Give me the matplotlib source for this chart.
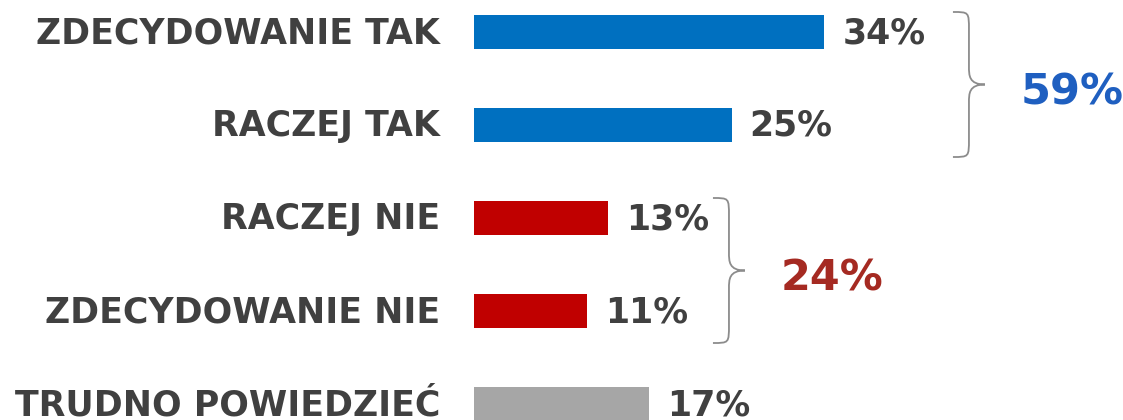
import numpy as np
import matplotlib.pyplot as plt
from matplotlib.path import Path
from matplotlib.patches import PathPatch

# dane
categories = ["ZDECYDOWANIE TAK", "RACZEJ TAK", "RACZEJ NIE", "ZDECYDOWANIE NIE", "TRUDNO POWIEDZIEĆ"]
values = [34, 25, 13, 11, 17]
bar_colors = ["#0070c0", "#0070c0", "#c00000", "#c00000", "#a6a6a6"]
groups = [(0, 1, "59%", "#1f5fc0"), (2, 3, "24%", "#a52a22")]

TEXT = "#404040"
FONT = "DejaVu Sans"

W, H = 1123, 420
fig = plt.figure(figsize=(W / 100, H / 100), dpi=100)

# skala: 10.3 px na punkt procentowy, 93 px na wiersz
PX_X = 10.3
PX_Y = 93.0
x0_px, y0_px = 474, 32
left = x0_px / W
ax = fig.add_axes([left, 0, 1 - left, 1])
ax.set_xlim(0, (W - x0_px) / PX_X)
ax.set_ylim((H - y0_px) / PX_Y, -y0_px / PX_Y)
ax.axis("off")

ypos = np.arange(len(categories))
ax.barh(ypos, values, height=34 / PX_Y, color=bar_colors, clip_on=False)

for y, v, c in zip(ypos, values, categories):
    ax.text(v + 18 / PX_X, y + 1 / PX_Y, f"{v}%", ha="left", va="center", fontsize=25,
            fontweight="bold", color=TEXT, family=FONT, clip_on=False)
    ax.text(-34 / PX_X, y + 1 / PX_Y, c, ha="right", va="center", fontsize=25,
            fontweight="bold", color=TEXT, family=FONT, clip_on=False)


def brace(xl, ytop, ybot, w_px=32, r_px=18):
    # klamra w pikselach przeliczona na dane
    dx = 1 / PX_X
    dy = 1 / PX_Y
    xm = xl + w_px / 2 * dx
    xt = xl + w_px * dx
    ymid = (ytop + ybot) / 2
    r = r_px * dy
    verts = [
        (xl, ytop),
        (xm, ytop), (xm, ytop), (xm, ytop + r),
        (xm, ymid - r),
        (xm, ymid - r * 0.5), (xm, ymid), (xt, ymid),
        (xm, ymid), (xm, ymid + r * 0.5), (xm, ymid + r),
        (xm, ybot - r),
        (xm, ybot), (xm, ybot), (xl, ybot),
    ]
    codes = [Path.MOVETO, Path.CURVE4, Path.CURVE4, Path.CURVE4, Path.LINETO,
             Path.CURVE4, Path.CURVE4, Path.CURVE4,
             Path.CURVE4, Path.CURVE4, Path.CURVE4, Path.LINETO,
             Path.CURVE4, Path.CURVE4, Path.CURVE4]
    ax.add_patch(PathPatch(Path(verts, codes), fill=False, edgecolor="#8c8c8c",
                           lw=1.3, clip_on=False))
    return xt, ymid


gaps = [12.5, 10.2]
for (a, b, label, col), gap in zip(groups, gaps):
    xl = max(values[a:b + 1]) + gap
    ytop = a - 20 / PX_Y
    ybot = b + 32 / PX_Y
    xt, ym = brace(xl, ytop, ybot)
    ax.text(xt + 36 / PX_X, ym + 8 / PX_Y, label, ha="left", va="center", fontsize=31,
            fontweight="bold", color=col, family=FONT, clip_on=False)

fig.savefig("out.png", dpi=100)
